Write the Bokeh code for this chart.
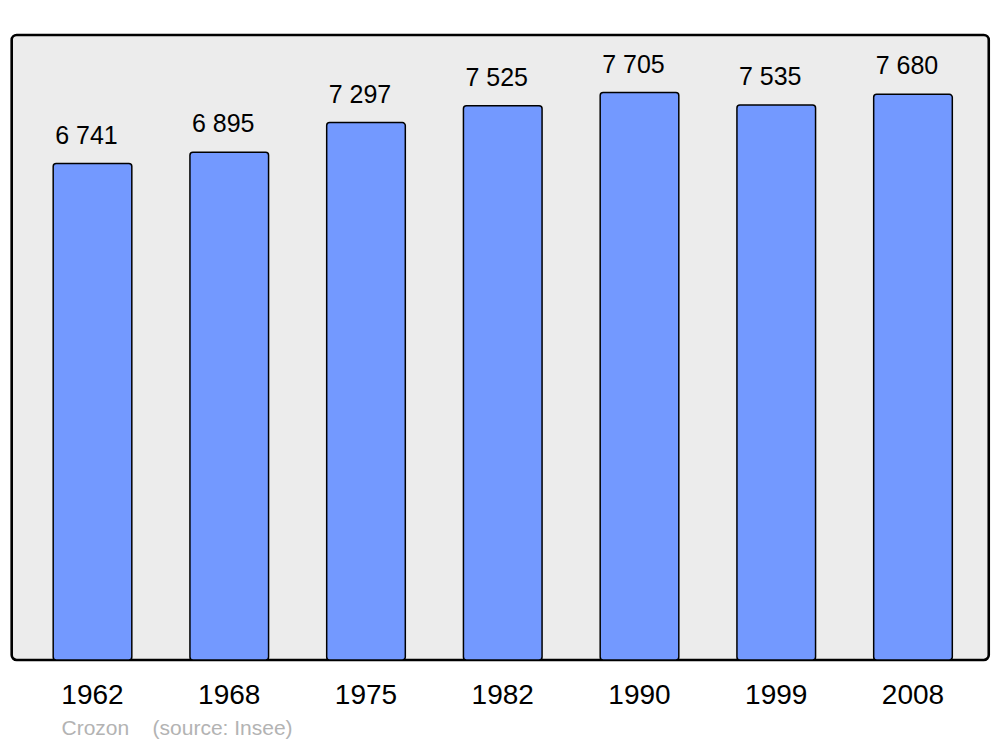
from bokeh.plotting import figure
from bokeh.models import ColumnDataSource, FixedTicker, Range1d, Title
from bokeh.core.properties import value
from bokeh.embed import file_html
from bokeh.resources import INLINE

years = ["1962", "1968", "1975", "1982", "1990", "1999", "2008"]
population = [6741, 6895, 7297, 7525, 7705, 7535, 7680]
value_labels = ["6 741", "6 895", "7 297", "7 525", "7 705", "7 535", "7 680"]
commune = "Crozon"
source_note = "(source: Insee)"

FONT = "Liberation Sans"
idx = list(range(len(years)))
bar_w = 0.575

src = ColumnDataSource(dict(
    x=idx, top=population, label=value_labels,
    left=[i - bar_w / 2 for i in idx],
))

p = figure(width=1000, height=747, output_backend="svg", toolbar_location=None,
           x_range=Range1d(-0.6728, 6.6399), y_range=Range1d(-61, 8574),
           y_axis_location=None, min_border_left=0, min_border_right=0,
           min_border_top=28, min_border_bottom=83)
p.outline_line_color = None
p.grid.visible = False
p.background_fill_color = "white"
p.border_fill_color = "white"

# panel background with rounded border
p.quad(left=[-0.591], right=[6.554], bottom=[0], top=[8486],
       fill_color="#ececec", line_color="black", line_width=2.6, border_radius=5)

p.vbar(x="x", top="top", bottom=0, width=bar_w, source=src,
       fill_color="#7399ff", line_color="black", line_width=1.5, border_radius=3)

p.text(x="left", y="top", text="label", source=src, x_offset=2, y_offset=-29,
       text_font=value(FONT), text_font_size="25px", text_color="black",
       text_baseline="alphabetic", text_align="left")

ax = p.xaxis[0]
ax.ticker = FixedTicker(ticks=idx)
ax.major_label_overrides = {i: y for i, y in zip(idx, years)}
ax.axis_line_color = None
ax.major_tick_line_color = None
ax.minor_tick_line_color = None
ax.major_tick_out = 0
ax.major_tick_in = 0
ax.major_label_standoff = 20
ax.major_label_text_font = FONT
ax.major_label_text_font_size = "28px"
ax.major_label_text_color = "black"

p.add_layout(Title(text=commune + "\u00a0\u00a0\u00a0\u00a0" + source_note, align="left",
                   offset=61, standoff=15, text_font=FONT, text_font_size="21px",
                   text_font_style="normal", text_color="#b3b3b3"), "below")

open("out.html", "w").write(file_html(p, INLINE))
